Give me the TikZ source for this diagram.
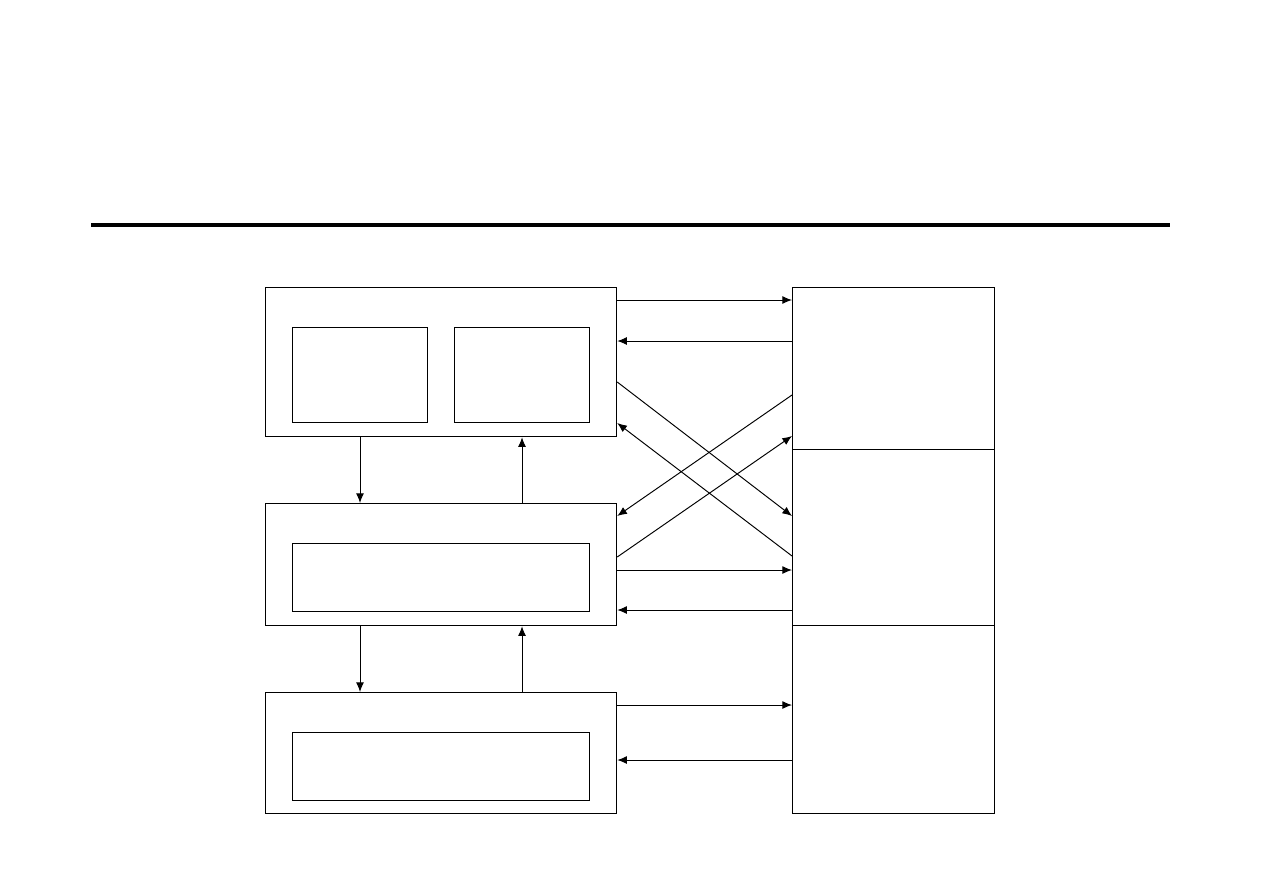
\documentclass[tikz,border=0pt]{standalone}
\usepackage{tikz}
\usetikzlibrary{shapes,arrows,arrows.meta,positioning}

\begin{document}
\begin{tikzpicture}[
    x=0.02cm, y=-0.02cm,
    outer/.style={rectangle, draw, line width=0.7pt, anchor=north west, inner sep=0pt},
    inner/.style={rectangle, draw, line width=0.6pt, anchor=north west, inner sep=0pt},
    side/.style={rectangle, draw, line width=0.6pt, anchor=north west, inner sep=0pt, minimum width=202*0.02cm},
    arrow/.style={-{Latex[length=5.5pt,width=4.5pt]}, line width=0.55pt}
]
    \useasboundingbox (0,0) rectangle (1263,893);

    % Title rule
    \coordinate (ruleL) at (91,225);
    \coordinate (ruleR) at (1170,225);
    \draw [line width=2.3pt] (ruleL) -- (ruleR);

    % Left column
    \node [outer, minimum width=351*0.02cm, minimum height=149*0.02cm] (top) at (265,287) {};
    \node [inner, minimum width=135*0.02cm, minimum height=95*0.02cm] (topL) at (292,327) {};
    \node [inner, minimum width=135*0.02cm, minimum height=95*0.02cm] (topR) at (454,327) {};

    \node [outer, minimum width=351*0.02cm, minimum height=122*0.02cm] (mid) at (265,503) {};
    \node [inner, minimum width=297*0.02cm, minimum height=68*0.02cm] (midIn) at (292,543) {};

    \node [outer, minimum width=351*0.02cm, minimum height=121*0.02cm] (bot) at (265,692) {};
    \node [inner, minimum width=297*0.02cm, minimum height=68*0.02cm] (botIn) at (292,732) {};

    % Right column
    \node [side, minimum height=162*0.02cm] (rOne) at (792,287) {};
    \node [side, minimum height=176*0.02cm] (rTwo) at (792,449) {};
    \node [side, minimum height=188*0.02cm] (rThree) at (792,625) {};

    % Vertical links
    \draw [arrow] (top.south -| 360,0) -- (mid.north -| 360,0);
    \draw [arrow] (mid.north -| 522,0) -- (top.south -| 522,0);
    \draw [arrow] (mid.south -| 360,0) -- (bot.north -| 360,0);
    \draw [arrow] (bot.north -| 522,0) -- (mid.south -| 522,0);

    % Horizontal links
    \draw [arrow] (top.east |- 0,300) -- (rOne.west |- 0,300);
    \draw [arrow] (rOne.west |- 0,341) -- (top.east |- 0,341);
    \draw [arrow] (mid.east |- 0,570) -- (rTwo.west |- 0,570);
    \draw [arrow] (rTwo.west |- 0,610) -- (mid.east |- 0,610);
    \draw [arrow] (bot.east |- 0,705) -- (rThree.west |- 0,705);
    \draw [arrow] (rThree.west |- 0,760) -- (bot.east |- 0,760);

    % Cross links
    \draw [arrow] (top.east |- 0,382) -- (rTwo.west |- 0,516);
    \draw [arrow] (rTwo.west |- 0,556) -- (top.east |- 0,423);
    \draw [arrow] (rOne.west |- 0,395) -- (mid.east |- 0,516);
    \draw [arrow] (mid.east |- 0,557) -- (rOne.west |- 0,436);
\end{tikzpicture}
\end{document}
